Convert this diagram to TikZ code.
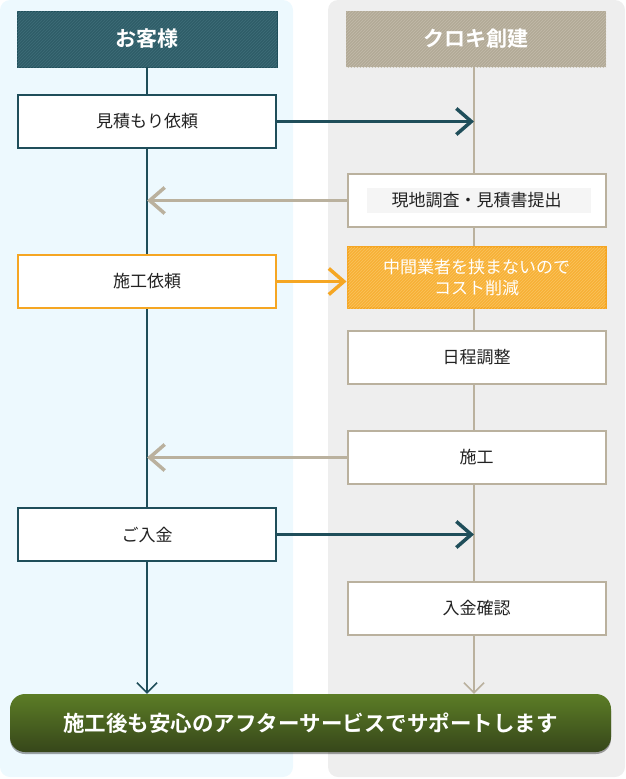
\documentclass[tikz,border=0pt]{standalone}
\usepackage{fontspec}
\setmainfont{Noto Sans CJK JP}[BoldFont={Noto Sans CJK JP Bold}]
\usetikzlibrary{arrows.meta,patterns,shadows,calc}
\definecolor{bgL}{HTML}{EDF9FE}
\definecolor{bgR}{HTML}{EEEEEE}
\definecolor{teal}{HTML}{1F4E5A}
\definecolor{tealH}{HTML}{2F5D68}
\definecolor{tealS}{HTML}{3E6D78}
\definecolor{tan}{HTML}{BAB19E}
\definecolor{tanH}{HTML}{B2AA97}
\definecolor{tanS}{HTML}{C2BBAA}
\definecolor{orng}{HTML}{F5A623}
\definecolor{orngF}{HTML}{F7B136}
\definecolor{orngS}{HTML}{FAC35E}
\definecolor{gTop}{HTML}{5C7D26}
\definecolor{gBot}{HTML}{36461A}
\definecolor{txt}{HTML}{222222}
\definecolor{inner}{HTML}{F5F5F5}
\tikzset{
  head/.style={minimum width=260pt,minimum height=56pt,inner sep=0pt,
    text=white,font=\fontsize{21}{24}\selectfont\bfseries},
  boxL/.style={draw=teal,line width=2pt,fill=white,minimum width=258pt,minimum height=53pt,
    inner sep=0pt,text=txt,font=\fontsize{17}{21}\selectfont},
  boxO/.style={boxL,draw=orng},
  boxR/.style={boxL,draw=tan},
  arrT/.style={teal,line width=3.5pt,-{Straight Barb[length=15pt,width=26pt,line width=3.5pt]}},
  arrN/.style={tan,line width=3.5pt,-{Straight Barb[length=15pt,width=26pt,line width=3.5pt]}},
  arrO/.style={orng,line width=3.5pt,-{Straight Barb[length=15pt,width=26pt,line width=3.5pt]}},
  downT/.style={teal,line width=2pt,-{Straight Barb[length=10pt,width=20pt,line width=1.6pt]}},
  downN/.style={tan,line width=2pt,-{Straight Barb[length=10pt,width=20pt,line width=1.6pt]}},
}
\begin{document}
\begin{tikzpicture}[x=1pt,y=-1pt]
\useasboundingbox (0,0) rectangle (625,779);
% panels
\fill[bgL,rounded corners=10pt] (0,0) rectangle (293,777);
\fill[bgR,rounded corners=10pt] (328,0) rectangle (625,777);
% headers
\node[head,fill=tealH,postaction={pattern=north east lines,pattern color=tealS},draw=teal,line width=1pt] (hL) at (147,39) {お客様};
\node[head,fill=tanH,postaction={pattern=north east lines,pattern color=tanS}] (hR) at (476,39) {クロキ創建};
% lane coordinates
\coordinate (ltop) at (147,67);
\coordinate (rtop) at (474,67);
% banner
\node[rounded corners=15pt,top color=gTop,bottom color=gBot,minimum width=601pt,minimum height=58pt,
  inner sep=0pt,text=white,font=\fontsize{21.5}{25}\selectfont\bfseries,
  drop shadow={shadow xshift=0pt,shadow yshift=-2pt,opacity=0.35,fill=black}] (ban) at (310.5,723)
  {施工後も安心のアフターサービスでサポートします};
% lane lines
\draw[downT] (ltop) -- (ltop |- ban.north);
\draw[downN] (rtop) -- (rtop |- ban.north);
% boxes
\node[boxL] (b1) at (147,121.5) {見積もり依頼};
\node[boxR] (r1) at (476.5,200.5) {};
\fill[inner] ($(r1.center)+(-109.5,-12.5)$) rectangle ($(r1.center)+(114.5,12.5)$);
\node[text=txt,font=\fontsize{17}{21}\selectfont] (r1t) at (r1.center) {現地調査・見積書提出};
\node[boxO] (b2) at (147,281.5) {施工依頼};
\node[boxO,fill=orngF,postaction={pattern=north east lines,pattern color=orngS},
  minimum height=61pt,align=center,text=white,font=\fontsize{17}{21}\selectfont] (r2) at (476.5,277.5)
  {中間業者を挟まないので\\コスト削減};
\node[boxR] (r3) at (476.5,357) {日程調整};
\node[boxR] (r4) at (476.5,457.5) {施工};
\node[boxL] (b3) at (147,534.5) {ご入金};
\node[boxR] (r5) at (476.5,608.5) {入金確認};
% connectors
\draw[arrT] (b1.east) -- (b1.east -| rtop);
\draw[arrN] (r1.west) -- (r1.west -| ltop);
\draw[arrO] (b2.east) -- (b2.east -| r2.west);
\draw[arrN] (r4.west) -- (r4.west -| ltop);
\draw[arrT] (b3.east) -- (b3.east -| rtop);
\end{tikzpicture}
\end{document}
